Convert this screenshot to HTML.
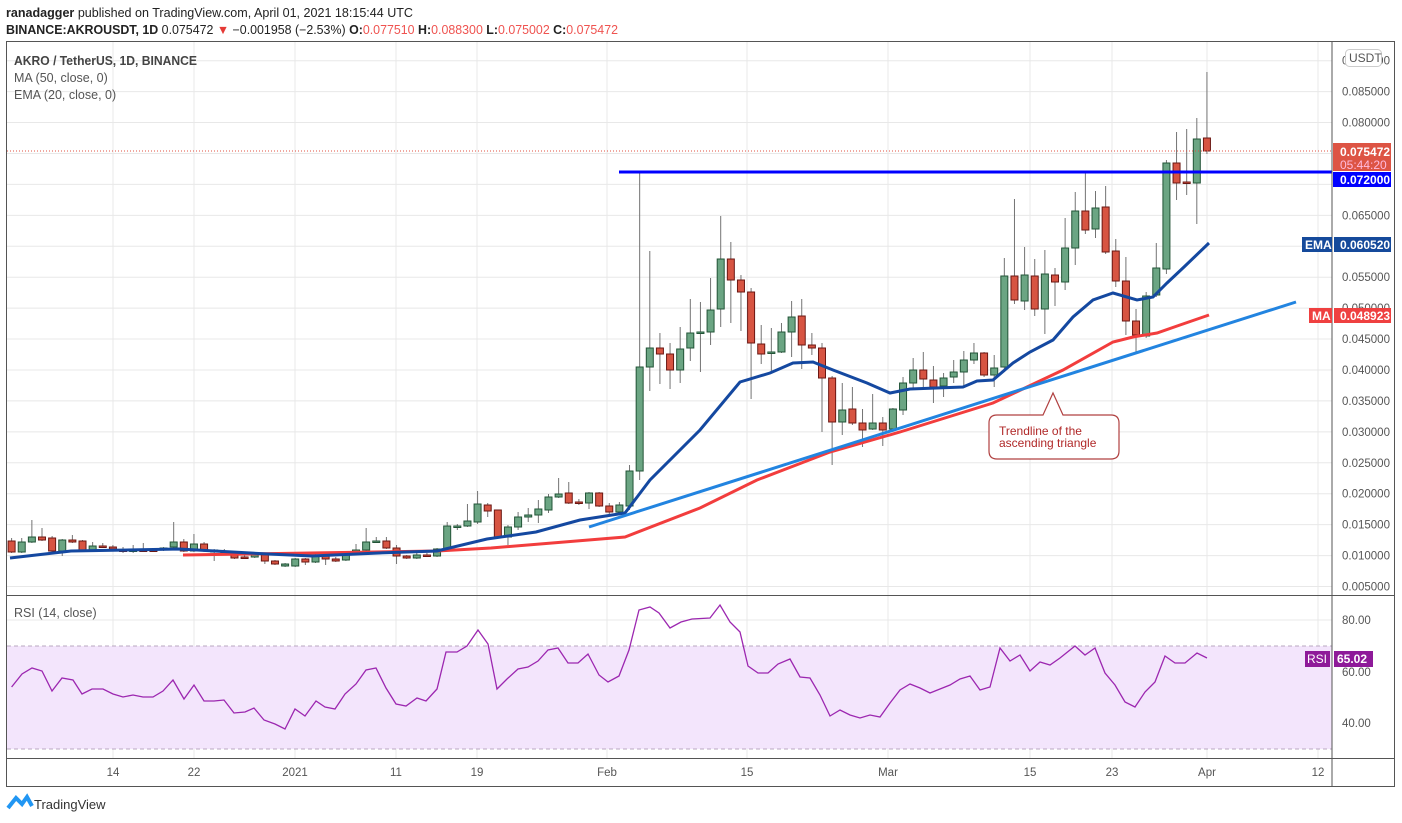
<!DOCTYPE html>
<html><head><meta charset="utf-8"><style>
body{margin:0;background:#fff;width:1402px;height:823px;overflow:hidden;font-family:"Liberation Sans",sans-serif}
svg{position:absolute;left:0;top:0}
</style></head><body>
<svg id="s" width="1402" height="823" xmlns="http://www.w3.org/2000/svg" font-family="Liberation Sans, sans-serif">
<text x="6" y="17" font-size="12.5" fill="#222" textLength="407" lengthAdjust="spacingAndGlyphs"><tspan font-weight="bold">ranadagger</tspan> published on TradingView.com, April 01, 2021 18:15:44 UTC</text>
<text x="6" y="34" font-size="12.5" fill="#222" textLength="612" lengthAdjust="spacingAndGlyphs"><tspan font-weight="bold">BINANCE:AKROUSDT, 1D</tspan> 0.075472 <tspan fill="#e53935">▼</tspan> −0.001958 (−2.53%) <tspan font-weight="bold">O:</tspan><tspan fill="#ef5350">0.077510</tspan> <tspan font-weight="bold">H:</tspan><tspan fill="#ef5350">0.088300</tspan> <tspan font-weight="bold">L:</tspan><tspan fill="#ef5350">0.075002</tspan> <tspan font-weight="bold">C:</tspan><tspan fill="#ef5350">0.075472</tspan></text>
<g id="grid" stroke="#e8e8e8" stroke-width="1"></g>
<rect x="7" y="646" width="1325" height="103" fill="#f3e5fc"/>
<line x1="7" y1="646" x2="1332" y2="646" stroke="#b8a8c0" stroke-dasharray="4,3"/>
<line x1="7" y1="749" x2="1332" y2="749" stroke="#b8a8c0" stroke-dasharray="4,3"/>
<g id="cand"></g>
<polyline id="ma" fill="none" stroke="#f23d3d" stroke-width="3"/>
<polyline id="ema" fill="none" stroke="#1448a0" stroke-width="3"/>
<line x1="589" y1="527" x2="1296" y2="302" stroke="#2284e0" stroke-width="3"/>
<line x1="619" y1="172" x2="1332" y2="172" stroke="#0000ff" stroke-width="3"/>
<line x1="7" y1="151" x2="1332" y2="151" stroke="#e05040" stroke-width="1" stroke-dasharray="1,2"/>
<path d="M999,415 H1043 L1053,393 L1063,415 H1111 Q1119,415 1119,423 V451 Q1119,459 1111,459 H997 Q989,459 989,451 V423 Q989,415 997,415 Z" fill="#fff" stroke="#b04040" stroke-width="1.2"/>
<text x="999" y="435" font-size="12" fill="#b02828">Trendline of the</text>
<text x="999" y="447" font-size="12" fill="#b02828">ascending triangle</text>
<polyline id="rsi" fill="none" stroke="#9c27b0" stroke-width="1.3"/>
<g fill="#555" font-size="11.5" id="axl"></g>
<rect x="6.5" y="41.5" width="1388" height="745" fill="none" stroke="#555"/>
<line x1="1332" y1="41" x2="1332" y2="786" stroke="#555"/>
<line x1="7" y1="595.5" x2="1395" y2="595.5" stroke="#555"/>
<line x1="7" y1="758.5" x2="1395" y2="758.5" stroke="#555"/>
<text x="14" y="65" font-size="12.5" fill="#444" font-weight="bold" textLength="183" lengthAdjust="spacingAndGlyphs">AKRO / TetherUS, 1D, BINANCE</text>
<text x="14" y="82" font-size="12.5" fill="#555">MA (50, close, 0)</text>
<text x="14" y="99" font-size="12.5" fill="#555">EMA (20, close, 0)</text>
<text x="14" y="617" font-size="12.5" fill="#555">RSI (14, close)</text>
<rect x="1345.5" y="49.5" width="36" height="17" rx="4" fill="#fff" stroke="#ccc"/>
<text x="1349" y="62" font-size="12" fill="#555">USDT</text>
<rect x="1333" y="143" width="58" height="28" fill="#dd5444"/>
<text x="1340" y="156" font-size="12" fill="#fff" font-weight="bold">0.075472</text>
<text x="1340" y="169" font-size="12" fill="#fbd">05:44:20</text>
<rect x="1333" y="172" width="58" height="15" fill="#0000ff"/>
<text x="1340" y="184" font-size="12" fill="#fff" font-weight="bold">0.072000</text>
<rect x="1302" y="237" width="30" height="15" fill="#154a9b"/>
<text x="1305" y="249" font-size="12" fill="#fff" font-weight="bold">EMA</text>
<rect x="1334" y="237" width="57" height="15" fill="#154a9b"/>
<text x="1340" y="249" font-size="12" fill="#fff" font-weight="bold">0.060520</text>
<rect x="1309" y="308" width="23" height="15" fill="#ef4040"/>
<text x="1312" y="320" font-size="12" fill="#fff" font-weight="bold">MA</text>
<rect x="1334" y="308" width="57" height="15" fill="#ef4040"/>
<text x="1340" y="320" font-size="12" fill="#fff" font-weight="bold">0.048923</text>
<rect x="1305" y="651" width="25" height="16" fill="#8e1a99"/>
<text x="1307" y="663" font-size="12" fill="#fff">RSI</text>
<rect x="1334" y="651" width="39" height="16" fill="#8e1a99"/>
<text x="1337" y="663" font-size="12" fill="#fff" font-weight="bold">65.02</text>
<path d="M8,808 L16,798 L22,804 L27,797 L32,806" fill="none" stroke="#2196f3" stroke-width="4"/>
<text x="34" y="809" font-size="13" fill="#333">TradingView</text>
</svg>
<script>
var NS="http://www.w3.org/2000/svg";
function el(p,t,a){var e=document.createElementNS(NS,t);for(var k in a)e.setAttribute(k,a[k]);p.appendChild(e);return e;}
var g=document.getElementById('grid'),ax=document.getElementById('axl');
var vx=[[113,'14'],[194,'22'],[295,'2021'],[396,'11'],[477,'19'],[607,'Feb'],[747,'15'],[888,'Mar'],[1030,'15'],[1112,'23'],[1207,'Apr'],[1318,'12']];
vx.forEach(function(v){el(g,'line',{x1:v[0],y1:42,x2:v[0],y2:758});var t=el(ax,'text',{x:v[0],y:776,'text-anchor':'middle'});t.textContent=v[1];});
for(var i=0;i<=17;i++){var y=586.5-i*30.93;if(y<45)continue;el(g,'line',{x1:7,y1:y,x2:1332,y2:y});
 var p=(0.005*(i+1)).toFixed(6);var hide=[14,13,11].indexOf(i)>=0;if(!hide){var t=el(ax,'text',{x:1342,y:y+4});t.textContent=p;}}
[[620,'80.00'],[672,'60.00'],[723,'40.00']].forEach(function(r){el(g,'line',{x1:7,y1:r[0],x2:1332,y2:r[0]});var t=el(ax,'text',{x:1342,y:r[0]+4});t.textContent=r[1];});
var C=[[541,552,538,553,0],[542,552,538,553,1],[537,542,520,543,1],[537,540,528,541,0],[538,551,536,553,0],[540,551,539,556,1],[540,542,535,543,0],[541,550,540,551,0],[546,551,542,552,1],[546,547,543,548,0],
[547,549,545,551,0],[550,551,547,553,0],[550,551,545,553,1],[550,551,543,551,0],[550,551,549,552,0],[548,550,547,551,1],[542,547,522,548,1],[542,551,539,552,0],[544,551,534,552,1],[544,551,542,552,0],
[550,552,549,561,1],[551,552,549,553,1],[552,558,551,559,0],[557,558,555,559,0],[555,557,553,558,1],[555,561,554,564,0],[561,564,560,565,0],[564,566,563,567,1],[559,566,558,567,1],[559,562,558,565,0],
[556,562,554,563,1],[556,559,555,565,0],[559,561,557,562,0],[554,560,551,561,1],[550,554,544,555,1],[542,550,528,551,1],[541,542,537,543,1],[541,548,537,549,0],[548,556,545,564,0],[556,558,555,559,0],
[555,558,553,559,1],[555,556,553,557,0],[549,556,548,557,1],[526,549,522,550,1],[526,527,524,530,1],[521,526,504,527,1],[504,522,491,524,1],[505,511,503,517,0],[510,537,518,538,0],[527,537,525,545,1],
[517,527,512,530,1],[515,517,508,522,1],[509,515,500,523,1],[497,510,494,513,1],[494,497,478,498,1],[493,503,482,504,0],[502,503,499,505,0],[493,503,492,509,1],[493,506,492,507,0],[506,512,503,515,0],
[505,512,502,513,1],[471,506,465,510,1],[367,471,173,480,1],[348,367,251,391,1],[348,354,333,384,0],[354,370,343,389,0],[349,370,327,383,1],[333,348,299,361,1],[332,333,302,372,1],[310,332,278,345,1],
[259,309,216,327,1],[259,280,242,323,0],[280,292,275,331,0],[292,343,288,399,0],[344,354,325,364,0],[352,353,328,373,1],[332,352,323,353,1],[317,332,301,357,1],[316,345,299,369,0],[345,348,333,355,0],
[348,378,343,432,0],[378,422,376,465,0],[410,422,383,435,1],[409,423,387,425,0],[423,430,409,447,0],[423,429,394,430,1],[423,430,417,446,0],[409,429,408,430,1],[383,410,377,415,1],[370,383,358,388,1],
[370,379,352,389,0],[380,387,366,403,0],[378,386,373,397,1],[372,377,360,383,1],[360,372,351,386,1],[353,360,343,364,1],[353,375,352,377,0],[368,375,355,387,1],[276,367,258,372,1],[276,300,199,304,0],
[275,301,247,310,1],[276,309,259,316,0],[274,309,250,334,1],[275,282,268,306,0],[248,282,218,290,1],[211,248,192,265,1],[211,230,173,234,0],[208,229,191,238,1],[207,252,186,254,0],[251,281,239,287,0],
[281,321,257,335,0],[321,335,309,353,0],[296,336,292,338,1],[268,295,243,297,1],[163,269,160,274,1],[163,183,132,200,0],[182,183,129,195,0],[139,183,118,224,1],[138,151,72,154,0]];
var cg=document.getElementById('cand');
C.forEach(function(c,i){var x=11.6+i*10.13;var gr=c[4];
 el(cg,'line',{x1:x,y1:c[2],x2:x,y2:c[3],stroke:'#737373','stroke-width':1});
 var h=Math.max(c[1]-c[0],1.5);
 el(cg,'rect',{x:x-3.5,y:c[0],width:7,height:h,fill:gr?'#6ba583':'#d75442',stroke:gr?'#225437':'#6b1713','stroke-width':1});});
function pts(a){return a.map(function(p){return p[0]+','+p[1]}).join(' ');}
document.getElementById('ema').setAttribute('points',pts([[10,558],[71,551],[179,549],[268,554],[312,556],[379,553],[437,551],[487,539],[536,532],[580,520],[625,513],[650,480],[700,430],[740,382],[770,373],[793,363],[813,362],[833,370],[867,383],[890,393],[910,389],[963,387],[977,381],[993,380],[1013,363],[1030,352],[1053,340],[1073,317],[1093,300],[1113,293],[1137,300],[1153,297],[1167,283],[1184,267],[1209,243]]));
document.getElementById('ma').setAttribute('points',pts([[183,555],[437,551],[491,548],[625,537],[700,508],[757,480],[830,452],[900,432],[993,403],[1063,370],[1113,342],[1133,337],[1157,333],[1180,325],[1209,315]]));
var R=[[11.6,687],[22,674],[32,668],[42,671],[52,691],[62,678],[73,680],[82,694],[92,689],[103,689],[113,694],[123,697],[133,695],[143,697],[153,697],[163,691],[173,680],[184,699],[194,685],[204,701],[214,701],[224,700],[234,713],[245,712],[254,708],[264,720],[275,724],[285,729],[295,709],[305,716],[316,701],[325,707],[335,709],[345,694],[356,684],[366,670],[376,668],[386,688],[396,704],[406,706],[417,698],[426,701],[437,689],[446,652],[457,652],[467,646],[478,630],[488,644],[497,689],[507,679],[518,669],[528,667],[538,661],[548,650],[558,648],[568,663],[578,663],[588,654],[599,675],[608,682],[619,676],[629,650],[639,610],[650,607],[659,613],[670,628],[681,622],[692,619],[710,618],[720,605],[730,622],[740,632],[748,666],[758,673],[768,673],[778,664],[790,659],[800,677],[810,678],[820,695],[830,716],[840,710],[850,715],[860,718],[870,715],[880,717],[890,703],[900,690],[910,684],[920,688],[930,693],[940,689],[950,685],[960,679],[970,676],[980,690],[990,687],[1000,648],[1010,661],[1020,655],[1030,671],[1040,662],[1050,665],[1060,658],[1075,646],[1085,655],[1095,648],[1105,673],[1115,685],[1125,702],[1135,707],[1145,692],[1155,682],[1165,656],[1175,663],[1185,663],[1197,653],[1207,658]];
document.getElementById('rsi').setAttribute('points',pts(R));
</script>
</body></html>
